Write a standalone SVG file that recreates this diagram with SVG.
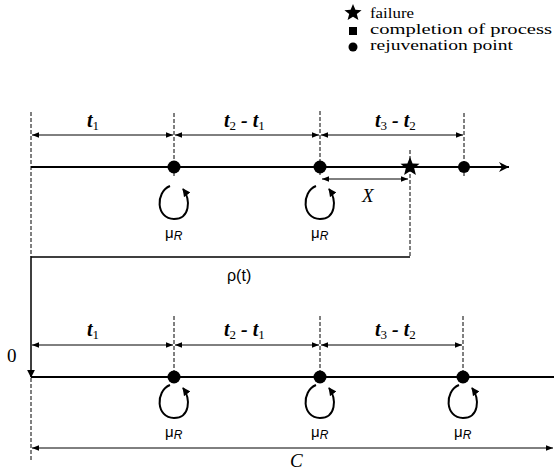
<svg xmlns="http://www.w3.org/2000/svg" width="554" height="473" viewBox="0 0 554 473">
<defs>
<marker id="ah" viewBox="0 0 10 10" refX="10" refY="5" markerWidth="9" markerHeight="7" markerUnits="userSpaceOnUse" orient="auto-start-reverse"><path d="M0,1 L10,5 L0,9 Z" fill="#000"/></marker>
<marker id="big" viewBox="0 0 10 10" refX="10" refY="5" markerWidth="14" markerHeight="10" markerUnits="userSpaceOnUse" orient="auto"><path d="M0,0 L10,5 L0,10 L3,5 Z" fill="#000"/></marker>
<marker id="la" viewBox="0 0 10 10" refX="9" refY="5" markerWidth="8" markerHeight="8" markerUnits="userSpaceOnUse" orient="auto"><path d="M0,0 L10,5 L0,10 Z" fill="#000"/></marker>
<path id="loop" d="M-4,0 C-19,6 -18,33 0,33 C16,33 17,14 9,3" fill="none" stroke="#000" stroke-width="2" marker-end="url(#la)"/>
</defs>
<style>
.dash{stroke:#000;stroke-width:1;stroke-dasharray:4,2;fill:none}
.dim{stroke:#000;stroke-width:1;fill:none}
.axis{stroke:#000;stroke-width:2;fill:none}
.t{font-family:'Liberation Serif',serif;font-style:italic;font-weight:bold;font-size:20px;fill:#000}
.sub{font-size:13px;font-style:normal;font-weight:normal}
.mu{font-family:'Liberation Sans',sans-serif;font-size:15px;fill:#000}
.rs{font-style:italic;font-size:12px}
.sans{font-family:'Liberation Sans',sans-serif;font-size:16px;fill:#000}
</style>
<g id="legend" font-family="Liberation Serif, serif" font-size="15" fill="#000">
<polygon points="353,4 355.4,9.8 361.6,10.2 356.8,14 358.4,20 353,16.7 347.6,20 349.2,14 344.4,10.2 350.6,9.8" fill="#000"/>
<text x="370" y="18" textLength="44" lengthAdjust="spacingAndGlyphs">failure</text>
<rect x="349" y="27" width="8" height="8" fill="#000"/>
<text x="370" y="34" textLength="182" lengthAdjust="spacingAndGlyphs">completion of process</text>
<circle cx="353" cy="47" r="4.5" fill="#000"/>
<text x="370" y="50" textLength="143" lengthAdjust="spacingAndGlyphs">rejuvenation point</text>
</g>
<g id="connectors">
<line class="dash" x1="31" y1="112" x2="31" y2="257"/>
<line class="dash" x1="31" y1="378" x2="31" y2="462"/>
<line class="dash" x1="174" y1="113" x2="174" y2="176"/>
<line class="dash" x1="320" y1="111" x2="320" y2="176"/>
<line class="dash" x1="464" y1="113" x2="464" y2="176"/>
<line class="dash" x1="410" y1="150" x2="410" y2="257"/>
<line class="dim" x1="32" y1="135" x2="173" y2="135" marker-start="url(#ah)" marker-end="url(#ah)"/>
<line class="dim" x1="175" y1="135" x2="319" y2="135" marker-start="url(#ah)" marker-end="url(#ah)"/>
<line class="dim" x1="321" y1="135" x2="463" y2="135" marker-start="url(#ah)" marker-end="url(#ah)"/>
<line class="axis" x1="31" y1="167" x2="509" y2="167" marker-end="url(#big)"/>
<line class="dim" x1="322" y1="179" x2="408" y2="179" marker-start="url(#ah)" marker-end="url(#ah)"/>
<polyline points="410,257 31,257 31,377" fill="none" stroke="#000" stroke-width="1.5" marker-end="url(#la)"/>
<line class="dash" x1="174" y1="316" x2="174" y2="383"/>
<line class="dash" x1="320" y1="316" x2="320" y2="383"/>
<line class="dash" x1="463" y1="316" x2="463" y2="383"/>
<line class="dim" x1="32" y1="345" x2="173" y2="345" marker-start="url(#ah)" marker-end="url(#ah)"/>
<line class="dim" x1="175" y1="345" x2="319" y2="345" marker-start="url(#ah)" marker-end="url(#ah)"/>
<line class="dim" x1="321" y1="345" x2="462" y2="345" marker-start="url(#ah)" marker-end="url(#ah)"/>
<line class="axis" x1="31" y1="377" x2="554" y2="377"/>
<line class="dim" x1="32" y1="448" x2="553" y2="448" marker-start="url(#ah)" marker-end="url(#ah)"/>
</g>
<g id="top-nodes">
<circle cx="174" cy="167" r="6.5" fill="#000"/>
<circle cx="320" cy="167" r="6.5" fill="#000"/>
<circle cx="464" cy="167" r="6" fill="#000"/>
<polygon points="410,157 412.6,163.4 419.5,163.8 414.2,168.2 415.9,175 410,171.2 404.1,175 405.8,168.2 400.5,163.8 407.4,163.4" fill="#000"/>
<use href="#loop" x="174" y="186"/>
<use href="#loop" x="320" y="186"/>
</g>
<g id="bottom-nodes">
<circle cx="174" cy="377" r="6.5" fill="#000"/>
<circle cx="320" cy="377" r="6.5" fill="#000"/>
<circle cx="463" cy="377" r="6.5" fill="#000"/>
<use href="#loop" x="174" y="385"/>
<use href="#loop" x="320" y="385"/>
<use href="#loop" x="463" y="385"/>
</g>
<g id="labels">
<text class="t" x="87" y="127">t<tspan class="sub" dy="3">1</tspan></text>
<text class="t" x="224" y="127">t<tspan class="sub" dy="3">2</tspan><tspan dy="-3"> - t</tspan><tspan class="sub" dy="3">1</tspan></text>
<text class="t" x="375" y="127">t<tspan class="sub" dy="3">3</tspan><tspan dy="-3"> - t</tspan><tspan class="sub" dy="3">2</tspan></text>
<text class="t" x="87" y="336">t<tspan class="sub" dy="3">1</tspan></text>
<text class="t" x="224" y="336">t<tspan class="sub" dy="3">2</tspan><tspan dy="-3"> - t</tspan><tspan class="sub" dy="3">1</tspan></text>
<text class="t" x="375" y="336">t<tspan class="sub" dy="3">3</tspan><tspan dy="-3"> - t</tspan><tspan class="sub" dy="3">2</tspan></text>
<text x="362" y="202" font-family="Liberation Serif,serif" font-style="italic" font-size="19" fill="#000">X</text>
<text class="mu" x="165" y="238">μ<tspan class="rs" dy="2">R</tspan></text>
<text class="mu" x="311" y="238">μ<tspan class="rs" dy="2">R</tspan></text>
<text class="sans" x="227" y="281">ρ(t)</text>
<text x="7" y="362" font-family="Liberation Serif,serif" font-size="19" fill="#000">0</text>
<text class="mu" x="165" y="437">μ<tspan class="rs" dy="2">R</tspan></text>
<text class="mu" x="311" y="437">μ<tspan class="rs" dy="2">R</tspan></text>
<text class="mu" x="454" y="437">μ<tspan class="rs" dy="2">R</tspan></text>
<text x="290" y="467" font-family="Liberation Serif,serif" font-style="italic" font-size="19" fill="#000">C</text>
</g>
</svg>
